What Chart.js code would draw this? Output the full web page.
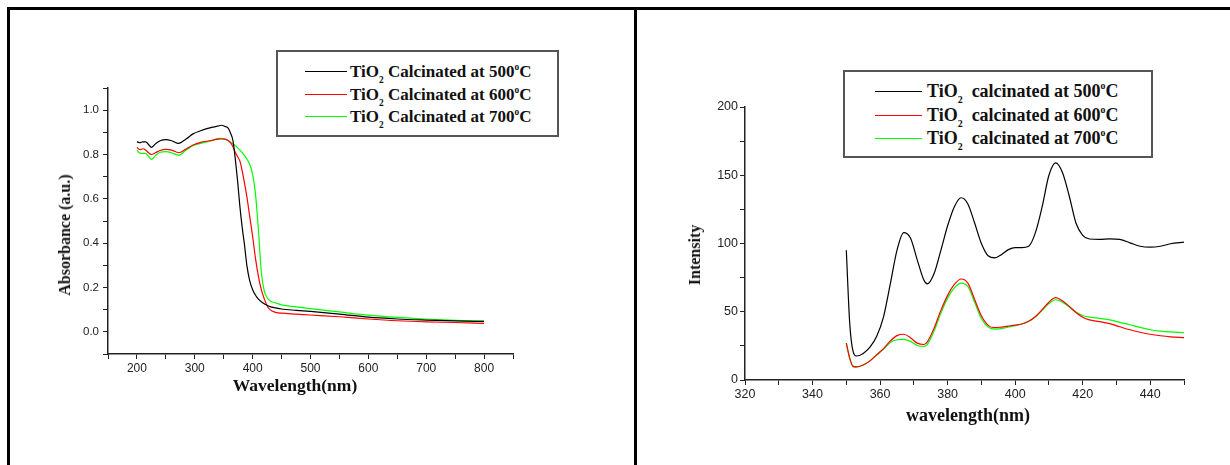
<!DOCTYPE html>
<html>
<head>
<meta charset="utf-8">
<script src="https://cdn.jsdelivr.net/npm/chart.js@4.4.1/dist/chart.umd.min.js"></script>
<style>
  html, body { margin: 0; padding: 0; background: #fff; }
  #page { position: relative; width: 1230px; height: 465px; overflow: hidden; font-family: "Liberation Serif", "Times New Roman", serif; }
  .rule { position: absolute; background: #000; }
  canvas { position: absolute; }
  .ttl { position: absolute; font-weight: bold; color: #111; white-space: nowrap; line-height: 1; transform: translate(-50%, -50%); }
  .ttl.rot { transform: translate(-50%, -50%) rotate(-90deg); }
  .legend { position: absolute; border: 2px solid #555; box-sizing: border-box; background: #fff; }
  .swatch { position: absolute; height: 1px; }
  .lbl { position: absolute; font-weight: bold; white-space: pre; color: #111; }
  sub { font-size: 0.55em; vertical-align: -0.6em; line-height: 0; }
  sup { font-size: 0.55em; vertical-align: 0.8em; line-height: 0; }
</style>
</head>
<body>
<div id="page">
  <div class="rule" style="left:7px;top:7px;width:1223px;height:3px"></div>
  <div class="rule" style="left:7px;top:7px;width:3px;height:458px"></div>
  <div class="rule" style="left:634px;top:7px;width:3px;height:458px"></div>

  <canvas id="absChart" width="624" height="455" style="left:10px;top:10px"></canvas>
  <canvas id="plChart" width="593" height="455" style="left:637px;top:10px"></canvas>

  <div class="ttl" style="left:295px;top:386px;font-size:17.5px">Wavelength(nm)</div>
  <div class="ttl rot" style="left:65px;top:235px;font-size:16px">Absorbance (a.u.)</div>
  <div class="ttl" style="left:968px;top:415px;font-size:18px">wavelength(nm)</div>
  <div class="ttl rot" style="left:695px;top:255px;font-size:16px">Intensity</div>

  <div id="absLegend" class="legend" style="left:276px;top:50px;width:283px;height:87px"></div>
  <div id="plLegend" class="legend" style="left:843px;top:70px;width:310px;height:88px"></div>
</div>

<script>
// ---- UV-Vis absorbance (left panel)
const absWave = [200, 205, 210, 215, 220, 225, 232, 240, 250, 260, 272, 285, 297, 310, 326, 340, 346, 352, 358,
  362, 366, 370, 374, 378, 382, 386, 390, 395, 400, 405, 410, 415, 420, 425, 430, 440, 450, 475, 500, 550, 600, 650, 700, 750, 800];
const abs500 = [0.858, 0.853, 0.857, 0.857, 0.845, 0.832, 0.848, 0.862, 0.867, 0.862, 0.850, 0.870, 0.893, 0.907, 0.920, 0.928, 0.932, 0.927, 0.918,
  0.895, 0.862, 0.780, 0.680, 0.565, 0.470, 0.390, 0.300, 0.230, 0.190, 0.165, 0.148, 0.136, 0.127, 0.120, 0.114, 0.108, 0.103, 0.097, 0.092, 0.080, 0.066, 0.058, 0.053, 0.049, 0.047];
const abs600 = [0.832, 0.822, 0.826, 0.820, 0.808, 0.800, 0.808, 0.818, 0.823, 0.820, 0.808, 0.825, 0.843, 0.855, 0.862, 0.869, 0.870, 0.869, 0.862,
  0.852, 0.835, 0.810, 0.790, 0.770, 0.725, 0.670, 0.610, 0.520, 0.430, 0.330, 0.250, 0.190, 0.150, 0.118, 0.100, 0.088, 0.084, 0.080, 0.076, 0.068, 0.058, 0.050, 0.045, 0.042, 0.038];
const abs700 = [0.820, 0.806, 0.805, 0.805, 0.792, 0.778, 0.795, 0.810, 0.813, 0.808, 0.797, 0.820, 0.840, 0.850, 0.860, 0.872, 0.873, 0.870, 0.862,
  0.855, 0.848, 0.840, 0.830, 0.820, 0.808, 0.795, 0.780, 0.755, 0.710, 0.620, 0.460, 0.270, 0.185, 0.155, 0.140, 0.130, 0.122, 0.113, 0.105, 0.090, 0.075, 0.065, 0.058, 0.052, 0.048];

// ---- Photoluminescence (right panel)
const plWave = [350, 351, 352, 353, 355, 357, 359, 361, 363, 365, 367, 369, 371, 373, 374, 376, 378, 380, 382, 384,
  386, 388, 390, 392, 394, 396, 398, 400, 402, 404, 406, 408, 410, 412, 414, 416, 418, 420, 422, 425, 428, 431, 434, 437, 440, 443, 446, 450];
const pl500 = [95, 42, 21, 17.6, 19.5, 24, 32, 46, 70, 95, 108, 104, 88, 73, 70.4, 78, 95, 113, 127, 133.5,
  129, 115, 100, 91, 89.5, 92, 95.5, 97, 97, 98, 108, 127, 150, 159, 152, 135, 115, 106, 103.3, 103, 103.4, 103, 100.5, 98, 97.3, 98, 99.8, 101];
const pl600 = [27, 16, 10, 9.6, 11, 14, 18.5, 23, 28.5, 32.5, 33.5, 31, 27, 26, 28, 38, 51, 62, 70, 74,
  71, 59, 47, 40, 38.3, 38.8, 39.5, 40.2, 41, 43, 46.5, 51.5, 57, 60.3, 58, 54, 49.5, 46, 44, 42.8, 41.3, 39, 36.8, 35, 33.5, 32.4, 31.6, 31];
const pl700 = [27, 16, 10, 9.6, 11, 14, 18.3, 22.5, 27.5, 29.5, 29.8, 28.3, 25.3, 24.6, 26, 36, 49, 60, 67.5, 71,
  68.5, 57, 45, 38.8, 37.3, 37.6, 38.8, 39.8, 41, 43, 46.2, 51, 56, 58.8, 57, 53.5, 49.8, 47.3, 46, 45.2, 44, 42.2, 40.5, 38.5, 36.8, 35.8, 35.2, 34.7];

const temps = ["500", "600", "700"];
const COLORS = ["#000000", "#ff0000", "#00ff00"];

function series(label, xs, ys, color) {
  return {
    label,
    data: xs.map((x, i) => ({ x, y: ys[i] })),
    borderColor: color,
    borderWidth: 1.2,
    pointRadius: 0,
    cubicInterpolationMode: "monotone",
    fill: false,
  };
}

function axis(opts) {
  return {
    type: "linear",
    min: opts.min,
    max: opts.max,
    afterFit: (s) => { if (opts.width != null) s.width = opts.width; if (opts.height != null) s.height = opts.height; },
    border: { display: true, color: "#222", width: 1.5 },
    grid: { drawOnChartArea: false, drawTicks: true, tickLength: 5, color: "#222", lineWidth: 1 },
    ticks: {
      stepSize: opts.step,
      autoSkip: false,
      maxRotation: 0,
      padding: opts.pad,
      color: "#222",
      font: { family: "'Liberation Sans', Arial, sans-serif", size: opts.size },
      callback: opts.fmt,
    },
  };
}

function mk(id, datasets, x, y, padding) {
  return new Chart(document.getElementById(id).getContext("2d"), {
    type: "line",
    data: { datasets },
    options: {
      responsive: false,
      animation: false,
      devicePixelRatio: 1,
      layout: { padding },
      plugins: { legend: { display: false }, tooltip: { enabled: false } },
      scales: { x, y },
    },
  });
}

// left: absorbance
mk("absChart",
  [abs500, abs600, abs700].map((ys, i) => series("TiO2 Calcinated at " + temps[i] + "°C", absWave, ys, COLORS[i])),
  axis({ min: 150, max: 850, step: 50, pad: 2, size: 12, height: 111,
    fmt: (v) => (v % 100 === 0 && v >= 200 && v <= 800 ? String(v) : "") }),
  axis({ min: -0.1, max: 1.1, step: 0.1, pad: 4, size: 11.5, width: 98,
    fmt: (v) => { const k = Math.round(v * 10); return k >= 0 && k <= 10 && k % 2 === 0 ? (k / 10).toFixed(1) : ""; } }),
  { left: 0, right: 121, top: 78, bottom: 0 });

// right: PL intensity
mk("plChart",
  [pl500, pl600, pl700].map((ys, i) => series("TiO2 calcinated at " + temps[i] + "°C", plWave, ys, COLORS[i])),
  axis({ min: 320, max: 450, step: 10, pad: 2, size: 12.5, height: 85,
    fmt: (v) => (v % 20 === 0 && v <= 440 ? String(v) : "") }),
  axis({ min: 0, max: 200, step: 25, pad: 2, size: 12.5, width: 108,
    fmt: (v) => (v % 50 === 0 ? String(v) : "") }),
  { left: 0, right: 46, top: 97, bottom: 0 });

// legends with sub/superscripts
function legend(id, word, rows, sw, textLeft, fontSize) {
  const el = document.getElementById(id);
  el.innerHTML = temps.map((t, i) => `
    <div class="swatch" style="left:${sw[0]}px;width:${sw[1] - sw[0]}px;top:${rows[i]}px;background:${COLORS[i]}"></div>
    <div class="lbl" style="left:${textLeft}px;top:${rows[i] - fontSize / 2}px;font-size:${fontSize}px;line-height:${fontSize}px">TiO<sub>2</sub>${word}${t}<sup>o</sup>C</div>`).join("");
}
legend("absLegend", " Calcinated at ", [19, 42, 64], [27, 69], 72, 17);
legend("plLegend", "  calcinated at ", [19, 43, 66], [30, 77], 82, 18);
</script>
</body>
</html>
